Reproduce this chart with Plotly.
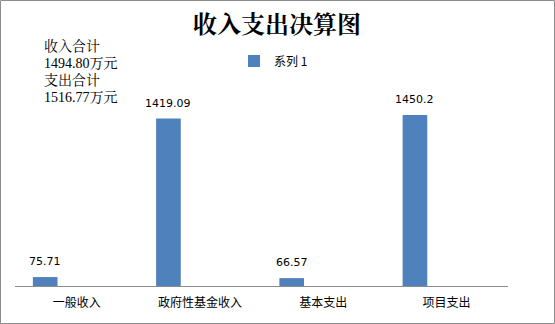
import plotly.graph_objects as go

categories = ["一般收入", "政府性基金收入", "基本支出", "项目支出"]
values = [75.71, 1419.09, 66.57, 1450.2]
value_labels = ["75.71", "1419.09", "66.57", "1450.2"]
series_name = "系列 1"
title_text = "收入支出决算图"
note_lines = ["收入合计", "1494.80万元", "支出合计", "1516.77万元"]

W, H = 555, 324
L, R, T, B = 15, 47, 40, 38
pw, ph = W - L - R, H - T - B
BAR_W, BAR_OFF = 0.2, -0.355

fig = go.Figure()
fig.add_trace(go.Bar(
    x=categories, y=values, name=series_name,
    marker=dict(color="#4F81BD", line=dict(width=0)),
    width=BAR_W, offset=BAR_OFF,
    showlegend=True,
))

# data labels above bars
for i, (v, lab) in enumerate(zip(values, value_labels)):
    fig.add_annotation(
        x=i + BAR_OFF + BAR_W / 2, y=v, xref="x", yref="y",
        text=lab, showarrow=False, yanchor="bottom", yshift=7,
        font=dict(family="DejaVu Sans", size=11, color="#000000"),
    )

fig.update_layout(
    width=W, height=H,
    margin=dict(l=L, r=R, t=T, b=B),
    paper_bgcolor="white", plot_bgcolor="white",
    title=dict(text="<b>" + title_text + "</b>", x=277 / W, xanchor="center",
               y=1 - 25 / H, yanchor="middle",
               font=dict(family="Noto Serif CJK SC, Noto Sans CJK SC", size=24, color="#000000")),
    legend=dict(orientation="h", x=(234 - L) / pw, xanchor="left",
                y=(H - B - 61) / ph, yanchor="middle",
                font=dict(family="Noto Sans CJK SC", size=12, color="#000000"),
                bgcolor="rgba(0,0,0,0)", itemwidth=30),
    xaxis=dict(showgrid=False, showline=True, linecolor="#8c8c8c", linewidth=1,
               ticks="outside", ticklen=6, tickcolor="rgba(0,0,0,0)",
               tickfont=dict(family="Noto Sans CJK SC", size=12, color="#000000"),
               fixedrange=True),
    yaxis=dict(visible=False, range=[0, ph / 0.118], fixedrange=True),
    showlegend=True,
)

y0_note = 46
for i, line in enumerate(note_lines):
    fig.add_annotation(
        text=line, xref="paper", yref="paper",
        x=(42 - L) / pw, xanchor="left",
        y=(H - B - (y0_note + 17 * i)) / ph, yanchor="middle",
        showarrow=False,
        font=dict(family="Liberation Serif, Noto Serif CJK SC", size=14, color="#000000"),
    )

# outer border
fig.add_shape(type="rect", xref="paper", yref="paper",
              x0=(0.5 - L) / pw, x1=(W - 0.5 - L) / pw,
              y0=(H - B - (H - 0.5)) / ph, y1=(H - B - 0.5) / ph,
              line=dict(color="#8c8c8c", width=1), fillcolor="rgba(0,0,0,0)", layer="below")

fig.write_html("out.html")
